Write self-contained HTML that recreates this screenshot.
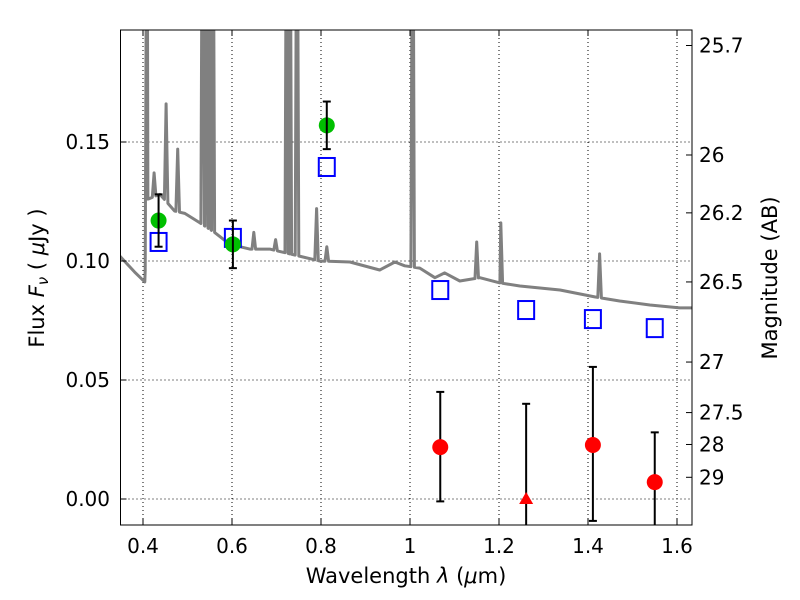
<!DOCTYPE html>
<html><head><meta charset="utf-8"><style>body{margin:0;background:#fff}svg{display:block}text{font-family:"DejaVu Sans","Liberation Sans",sans-serif;fill:#000}</style></head>
<body>
<svg id="chart" width="800" height="600" xmlns="http://www.w3.org/2000/svg">
<g id="grid"></g>
<g id="plot"></g>
<g id="axes"></g>
<text x="406" y="583" font-size="21" text-anchor="middle">Wavelength  <tspan font-style="italic">λ</tspan> (<tspan font-style="italic">μ</tspan>m)</text>
<text transform="translate(44,278) rotate(-90)" font-size="21" text-anchor="middle">Flux  <tspan font-style="italic">F<tspan font-size="15" dy="4">ν</tspan></tspan><tspan dy="-4">  ( <tspan font-style="italic">μ</tspan>Jy )</tspan></text>
<text transform="translate(777,278) rotate(-90)" font-size="21" text-anchor="middle">Magnitude (AB)</text>
</svg>
<script>
const xTicks=[0.4,0.6,0.8,1.0,1.2,1.4,1.6];
const xTickLabels=["0.4","0.6","0.8","1","1.2","1.4","1.6"];
const yTicks=[0,0.05,0.10,0.15];
const yTickLabels=["0.00","0.05","0.10","0.15"];
const magTicks=[25.7,26,26.2,26.5,27,27.5,28,29];
const contLam=[0.348,0.381,0.404,0.411,0.438,0.471,0.494,0.528,0.561,0.595,0.640,0.685,0.730,0.797,0.865,0.932,0.966,0.988,1.022,1.056,1.078,1.112,1.157,1.202,1.247,1.337,1.415,1.471,1.539,1.606,1.633];
const contFlux=[0.102,0.0954,0.0912,0.126,0.128,0.121,0.120,0.116,0.112,0.107,0.105,0.105,0.103,0.100,0.0996,0.0962,0.0996,0.098,0.097,0.093,0.095,0.0916,0.093,0.0908,0.0895,0.0878,0.0849,0.0832,0.0815,0.0803,0.0803];
const lineLam=[0.409,0.425,0.452,0.478,0.534,0.543,0.550,0.557,0.649,0.698,0.723,0.730,0.746,0.790,0.813,1.006,1.150,1.204,1.426];
const linePeak=[0.3,0.137,0.166,0.147,0.3,0.3,0.3,0.3,0.112,0.109,0.3,0.3,0.3,0.122,0.106,0.3,0.108,0.116,0.103];
const greenLam=[0.435,0.602,0.813];
const greenFlux=[0.117,0.107,0.157];
const greenErr=[0.011,0.010,0.010];
const blueLam=[0.435,0.602,0.813,1.068,1.261,1.411,1.550];
const blueFlux=[0.108,0.1097,0.1395,0.0878,0.0794,0.0756,0.0718];
const redLam=[1.068,1.261,1.411,1.550];
const redFlux=[0.0218,0.0,0.0227,0.0071];
const redUp=[0.045,0.040,0.0555,0.028];
const redLo=[-0.001,-0.04,-0.0092,-0.03];
const redShape=["circle","triangle","circle","circle"];

const L=120.5,R=692,T=30,B=525;
const X=v=>120.75+(v-0.35)*445;
const Y=v=>499-v*2380;
const NS="http://www.w3.org/2000/svg";
function mk(tag,attrs,parent){const e=document.createElementNS(NS,tag);for(const k in attrs)e.setAttribute(k,attrs[k]);parent.appendChild(e);return e;}
const grid=document.getElementById('grid'),plot=document.getElementById('plot'),axes=document.getElementById('axes');
const defs=mk('defs',{},document.getElementById('chart'));
const cp=mk('clipPath',{id:'clip'},defs);mk('rect',{x:L,y:T,width:R-L,height:B-T},cp);
plot.setAttribute('clip-path','url(#clip)');
xTicks.forEach((t,i)=>{
 const g=mk('line',{x1:X(t),x2:X(t),y1:T,y2:B,stroke:'#000','stroke-dasharray':'1,3','stroke-width':1},grid);
 
 const a=mk('line',{x1:X(t),x2:X(t),y1:B,y2:B-6,stroke:'#000'},axes);
 
 const b=mk('line',{x1:X(t),x2:X(t),y1:T,y2:T+6,stroke:'#000'},axes);
 
 const tx=mk('text',{x:X(t),y:553,'font-size':20,'text-anchor':'middle'},axes);tx.textContent=xTickLabels[i];
 
});
yTicks.forEach((t,i)=>{
 const g=mk('line',{x1:L,x2:R,y1:Y(t),y2:Y(t),stroke:'#000','stroke-dasharray':'1,3','stroke-width':1},grid);
 
 const a=mk('line',{x1:L,x2:L+6,y1:Y(t),y2:Y(t),stroke:'#000'},axes);
 
 const tx=mk('text',{x:110,y:Y(t)+7,'font-size':20,'text-anchor':'end'},axes);tx.textContent=yTickLabels[i];
 
});
magTicks.forEach(m=>{
 const f=Math.pow(10,(23.9-m)/2.5);const y=Y(f);
 const a=mk('line',{x1:R,x2:R-6,y1:y,y2:y,stroke:'#000'},axes);
 
 const tx=mk('text',{x:699,y:y+7,'font-size':20},axes);tx.textContent=String(m);
 
});
const pts=[];contLam.forEach((l,i)=>pts.push([l,contFlux[i]]));
function cont(l){for(let i=0;i<contLam.length-1;i++){if(l>=contLam[i]&&l<=contLam[i+1]){const r=(l-contLam[i])/(contLam[i+1]-contLam[i]);return contFlux[i]+r*(contFlux[i+1]-contFlux[i]);}}return contFlux[contFlux.length-1];}
lineLam.forEach((l,i)=>{const w=0.004;pts.push([l-w,cont(l-w)]);pts.push([l,linePeak[i]]);pts.push([l+w,cont(l+w)]);});
pts.sort((a,b)=>a[0]-b[0]);
const sp=mk('polyline',{points:pts.map(p=>X(p[0]).toFixed(1)+','+Y(p[1]).toFixed(1)).join(' '),fill:'none',stroke:'#808080','stroke-width':3,'stroke-linejoin':'round'},plot);

function ebar(x,lo,hi,name){const g=mk('g',{stroke:'#000','stroke-width':2},plot);
 mk('line',{x1:X(x),x2:X(x),y1:Y(lo),y2:Y(hi)},g);mk('line',{x1:X(x)-4,x2:X(x)+4,y1:Y(lo),y2:Y(lo)},g);mk('line',{x1:X(x)-4,x2:X(x)+4,y1:Y(hi),y2:Y(hi)},g);}
blueLam.forEach((l,i)=>{const r=mk('rect',{x:X(l)-8,y:Y(blueFlux[i])-9,width:16,height:18,fill:'none',stroke:'#0000ff','stroke-width':2},plot);
 });
greenLam.forEach((l,i)=>{const c=mk('circle',{cx:X(l),cy:Y(greenFlux[i]),r:8,fill:'#00bf00'},plot);
 
 ebar(l,greenFlux[i]-greenErr[i],greenFlux[i]+greenErr[i],'detection-error-bar');});
redLam.forEach((l,i)=>{ebar(l,redLo[i],redUp[i],'upper-limit-error-bar');
 let m;if(redShape[i]==='triangle'){const x=X(l),y=Y(redFlux[i]);m=mk('polygon',{points:`${x},${y-7} ${x-7},${y+5} ${x+7},${y+5}`,fill:'#ff0000'},plot);}
 else m=mk('circle',{cx:X(l),cy:Y(redFlux[i]),r:8,fill:'#ff0000'},plot);
 });
const fr=mk('rect',{x:L,y:T,width:R-L,height:B-T,fill:'none',stroke:'#000','stroke-width':1},axes);

</script>
</body></html>
